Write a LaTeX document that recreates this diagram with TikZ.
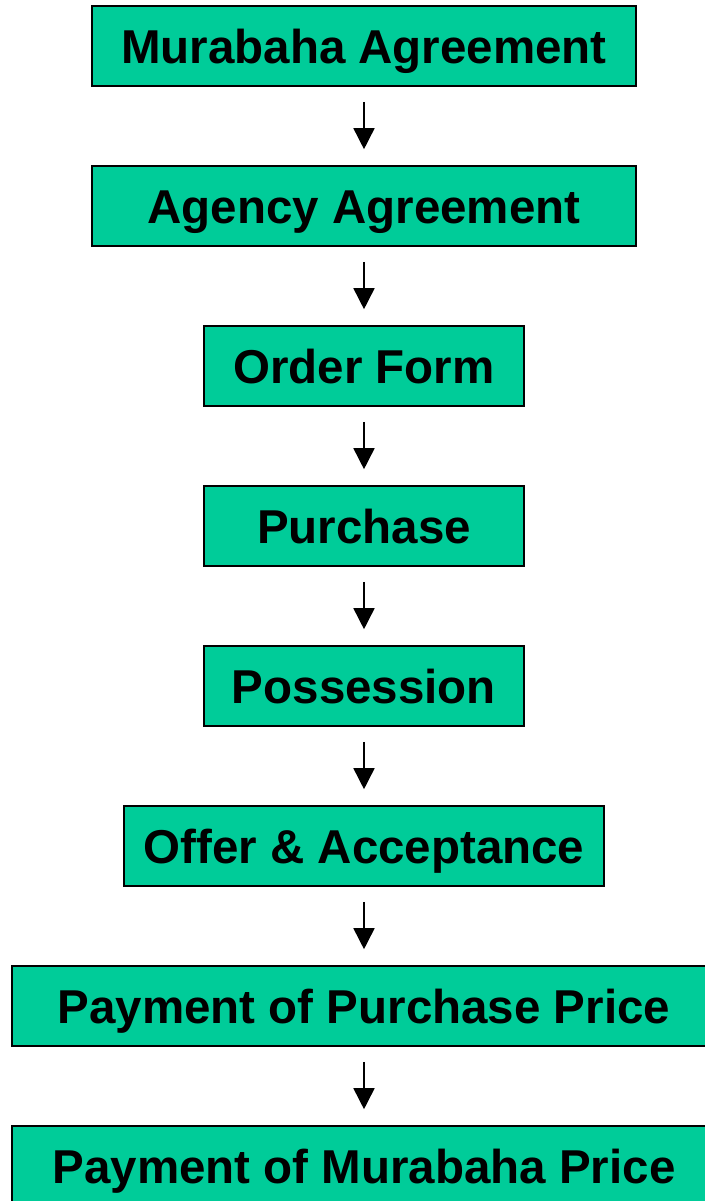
\documentclass[tikz,border=0pt]{standalone}
\usepackage{fontspec}
\setmainfont{Liberation Sans}
\usetikzlibrary{arrows.meta}
\definecolor{boxgreen}{RGB}{0,204,153}
\begin{document}
\begin{tikzpicture}[x=1pt,y=-1pt,
  stepbox/.style={draw=black,line width=1.6pt,fill=boxgreen,inner sep=0pt,
    minimum height=80pt,text height=35pt,text depth=0pt,
    font=\fontsize{47.5}{50}\selectfont\bfseries},
  flow/.style={line width=1.6pt,-{Triangle[width=21pt,length=21pt]}}]
\useasboundingbox (0,0) rectangle (704,1201);
\node[stepbox,minimum width=544pt] (a) at (364,46) {Murabaha Agreement};
\node[stepbox,minimum width=544pt] (b) at (364,206) {Agency Agreement};
\node[stepbox,minimum width=320pt] (c) at (364,366) {Order Form};
\node[stepbox,minimum width=320pt] (d) at (364,526) {Purchase};
\node[stepbox,minimum width=320pt] (e) at (364,686) {Possession};
\node[stepbox,minimum width=480pt] (f) at (364,846) {Offer \& Acceptance};
\node[stepbox,minimum width=704pt] (g) at (364,1006) {Payment of Purchase Price};
\node[stepbox,minimum width=704pt] (h) at (364,1166) {Payment of Murabaha Price};
\foreach \u/\v in {a/b,b/c,c/d,d/e,e/f,f/g,g/h}{
  \draw[flow] ([yshift=-15pt]\u.south) -- ([yshift=16pt]\v.north);
}
\end{tikzpicture}
\end{document}
